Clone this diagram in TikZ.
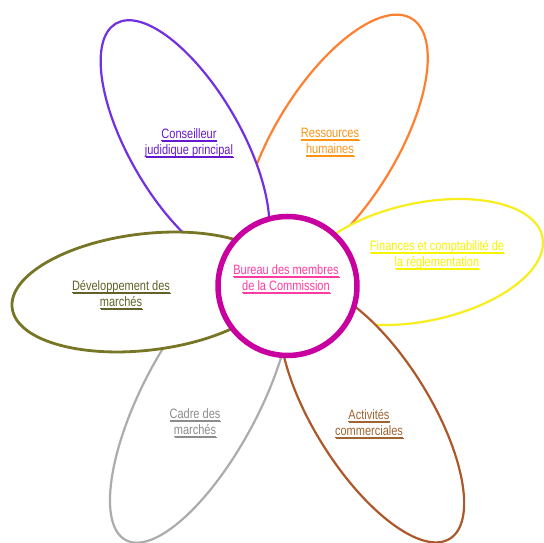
\documentclass[tikz,border=0pt]{standalone}
\usepackage{fontspec}
\newfontfamily\lblfont[FakeStretch=0.81]{Liberation Sans}
\definecolor{purpleP}{RGB}{115,48,225}
\definecolor{purpleT}{RGB}{100,25,205}
\definecolor{orangeP}{RGB}{255,128,48}
\definecolor{orangeT}{RGB}{255,148,20}
\definecolor{yellowP}{RGB}{248,238,30}
\definecolor{yellowT}{RGB}{245,245,0}
\definecolor{magentaP}{RGB}{200,0,160}
\definecolor{magentaT}{RGB}{255,60,160}
\definecolor{oliveP}{RGB}{118,118,38}
\definecolor{oliveT}{RGB}{98,98,40}
\definecolor{grayP}{RGB}{172,172,172}
\definecolor{grayT}{RGB}{140,140,140}
\definecolor{brownP}{RGB}{172,88,42}
\definecolor{brownT}{RGB}{160,100,50}
\newcommand\ulx[1]{\setbox0\hbox{#1}\rlap{\kern0.9pt\raisebox{-3.6pt}{\rule{\wd0}{1pt}}}\rlap{\raisebox{-2.7pt}{\rule{\wd0}{1.3pt}}}\box0}
\tikzset{
  petal/.style={line width=2.2pt, fill=white},
  lbl/.style={align=center, font=\lblfont\fontsize{13.6}{16}\selectfont, inner sep=2pt, fill=white}
}
\begin{document}
\begin{tikzpicture}[x=1pt,y=1pt]
\useasboundingbox (0,0) rectangle (544,543);
\fill[white] (0,0) rectangle (544,543);
% petals
\draw[petal, draw=orangeP, rotate around={58.5:(335,399)}] (335,399) ellipse [x radius=147, y radius=61];
\draw[petal, draw=purpleP, rotate around={-60:(185,400)}] (185,400) ellipse [x radius=138, y radius=56];
\draw[petal, draw=grayP, rotate around={62:(200.9,144.2)}] (200.9,144.2) ellipse [x radius=160, y radius=58];
\draw[petal, draw=oliveP, line width=2.8pt, rotate around={6.8:(146,251)}] (146,251) ellipse [x radius=134.8, y radius=58.2];
\draw[petal, draw=yellowP, rotate around={11.8:(422,281)}] (422,281) ellipse [x radius=123, y radius=59];
\draw[petal, draw=brownP, rotate around={-58:(372,129)}] (372,129) ellipse [x radius=147, y radius=58];
% centre
\draw[draw=magentaP, line width=5.5pt, fill=white] (287.5,257) circle [radius=69.5];
% labels
\node[lbl, text=purpleT] (cons) at (189,399.5) {\ulx{Conseilleur}\\\ulx{judidique principal}};
\node[lbl, text=orangeT] (rh) at (330,400) {\ulx{Ressources}\\\ulx{humaines}};
\node[lbl, text=yellowT] (fin) at (437,288) {\ulx{Finances et comptabilité de}\\\ulx{la réglementation}};
\node[lbl, text=magentaT] (bur) at (286,264) {\ulx{Bureau des membres}\\\ulx{de la Commission}};
\node[lbl, text=oliveT] (dev) at (121,247.5) {\ulx{Développement des}\\\ulx{marchés}};
\node[lbl, text=grayT] (cad) at (195,120) {\ulx{Cadre des}\\\ulx{marchés}};
\node[lbl, text=brownT] (act) at (369,119) {\ulx{Activités}\\\ulx{commerciales}};
\end{tikzpicture}
\end{document}
